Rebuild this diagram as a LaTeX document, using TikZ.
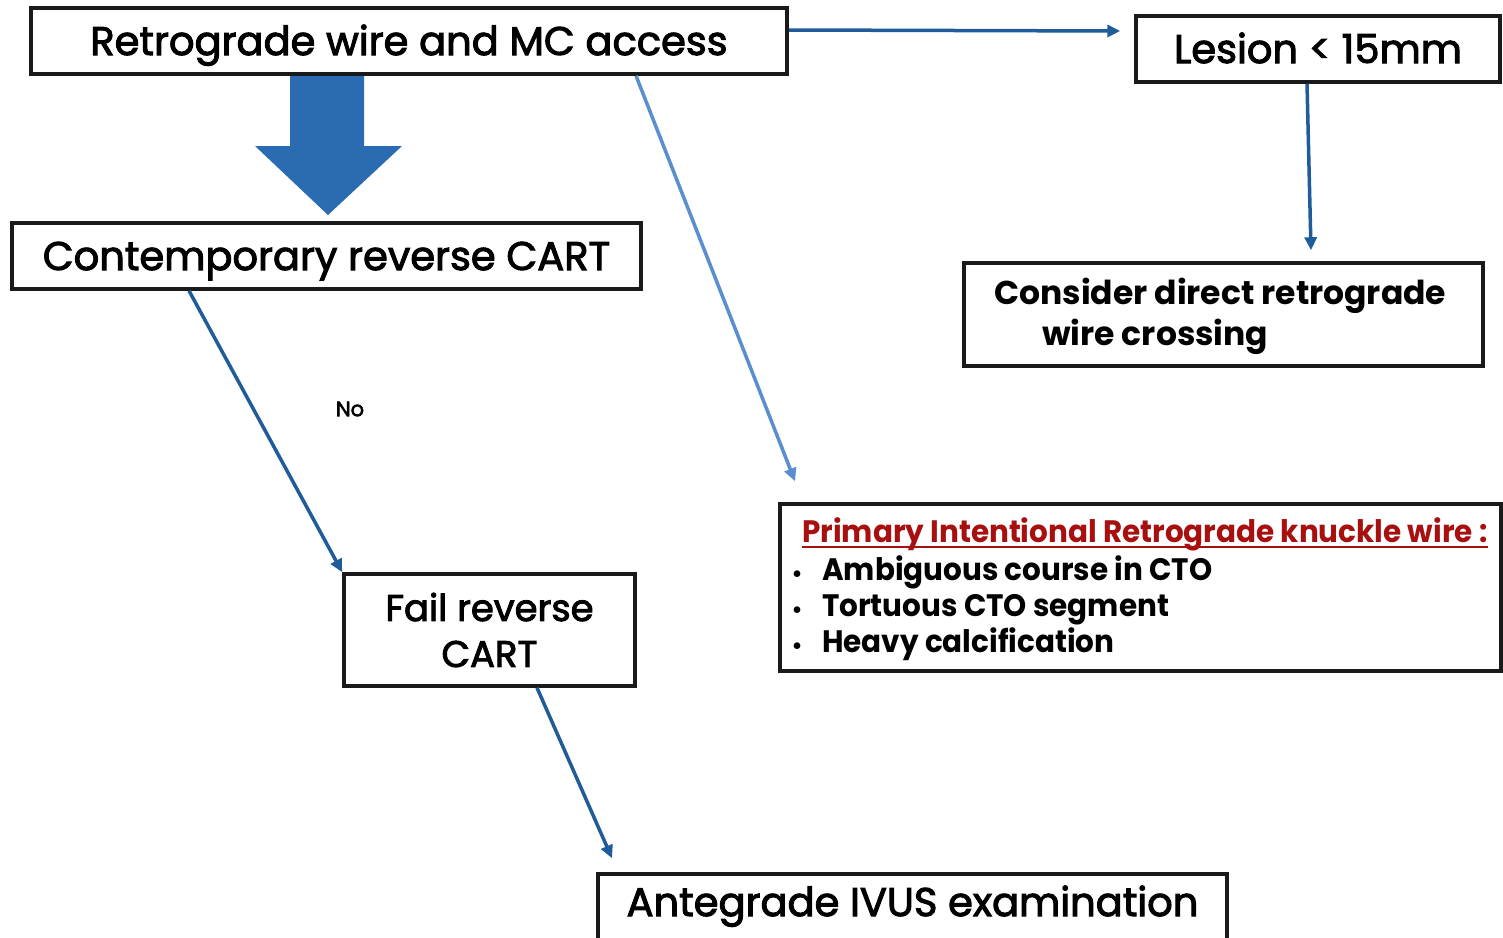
\documentclass[tikz,border=0pt]{standalone}
\usepackage{fontspec}
\setmainfont{Poppins}
\newfontfamily\medfont[FakeBold=2.5]{Poppins}
\newfontfamily\condbold[FakeStretch=0.95]{Poppins}
\usetikzlibrary{arrows.meta,calc}
\definecolor{arrblue}{HTML}{1F5C99}
\definecolor{lightarr}{HTML}{5B8ED0}
\definecolor{bigblue}{HTML}{2A6BB2}
\definecolor{boxline}{HTML}{1A1A1A}
\definecolor{titlered}{HTML}{A81010}
\begin{document}
\begin{tikzpicture}[x=1pt,y=-1pt,
  box/.style={draw=boxline,line width=3.5pt,inner sep=0pt,fill=white},
  arr/.style={draw=arrblue,line width=3.5pt,-{Triangle[length=13pt,width=12pt]}},
  lightarrow/.style={draw=lightarr,line width=3.5pt,-{Triangle[length=13pt,width=12pt]}},
  big/.style={font=\fontsize{40}{48}\selectfont\medfont,text height=30pt,text depth=2pt},
  mid/.style={font=\fontsize{33}{41}\selectfont\bfseries},
  list/.style={font=\fontsize{31}{36}\selectfont\condbold\bfseries, inner sep=0pt, anchor=base west}
]
\useasboundingbox (0,0) rectangle (1503,937);
\fill[white] (0,0) rectangle (1503,937);

\node[box,big,minimum width=756pt,minimum height=66pt] (b1) at (409,41) {Retrograde wire and MC access};
\node[box,big,minimum width=364pt,minimum height=66pt] (b2) at (1318,49) {Lesion < 15mm};
\node[box,big,minimum width=629pt,minimum height=66pt] (b3) at (326.5,256) {Contemporary reverse CART};
\node[box,minimum width=519pt,minimum height=103pt] (b4) at (1223.5,314.5) {};
\node[mid,inner sep=0pt,anchor=base west] (t4a) at (994,304) {Consider direct retrograde};
\node[mid,inner sep=0pt,anchor=base west] (t4b) at (1042,345) {wire crossing};
\node[box,minimum width=721pt,minimum height=167pt] (b5) at (1140.5,587.5) {};
\node[list,text=titlered] (t5) at (802,542) {Primary Intentional Retrograde knuckle wire :};
\draw[titlered,line width=2pt] ([yshift=-5pt]t5.base west) -- ([yshift=-5pt]t5.base east);
\node[list] (l1) at (822,580) {Ambiguous course in CTO};
\node[list] (l2) at (822,616) {Tortuous CTO segment};
\node[list] (l3) at (822,652) {Heavy calcification};
\foreach \n in {l1,l2,l3} \node[font=\fontsize{22}{24}\selectfont\bfseries,inner sep=0pt,anchor=base] at ([xshift=-25pt,yshift=-1pt]\n.base west) {•};
\node[box,align=center,font=\fontsize{37}{46}\selectfont\medfont,minimum width=291pt,minimum height=112pt] (b6) at (489.5,630) {Fail reverse\\CART};
\node[box,minimum width=629pt,minimum height=90pt] (b7) at (912.5,919) {};
\node[font=\fontsize{40}{48}\selectfont\medfont,inner sep=0pt,anchor=base] (t7) at (912.5,916) {Antegrade IVUS examination};
\node[font=\fontsize{21}{24}\selectfont\medfont,inner sep=0pt] (no) at (350,409) {No};

\fill[bigblue] (290,76) -- (364,76) -- (364,146) -- (402,146) -- (328,215) -- (255,146) -- (290,146) -- cycle;

\draw[arr] ([yshift=11pt]b1.east) -- ([xshift=-14pt,yshift=18pt]b2.west);
\draw[arr] ([xshift=-11pt]b2.south) -- ([xshift=87.5pt,yshift=11pt]b4.north);
\draw[lightarrow] ([xshift=227pt]b1.south) -- ([xshift=-345.5pt,yshift=21pt]b5.north);
\draw[arr] ([xshift=-137.5pt]b3.south) -- (b6.north west);
\draw[arr] ([xshift=47.5pt]b6.south) -- ([xshift=-300.5pt,yshift=14pt]b7.north);
\end{tikzpicture}
\end{document}
